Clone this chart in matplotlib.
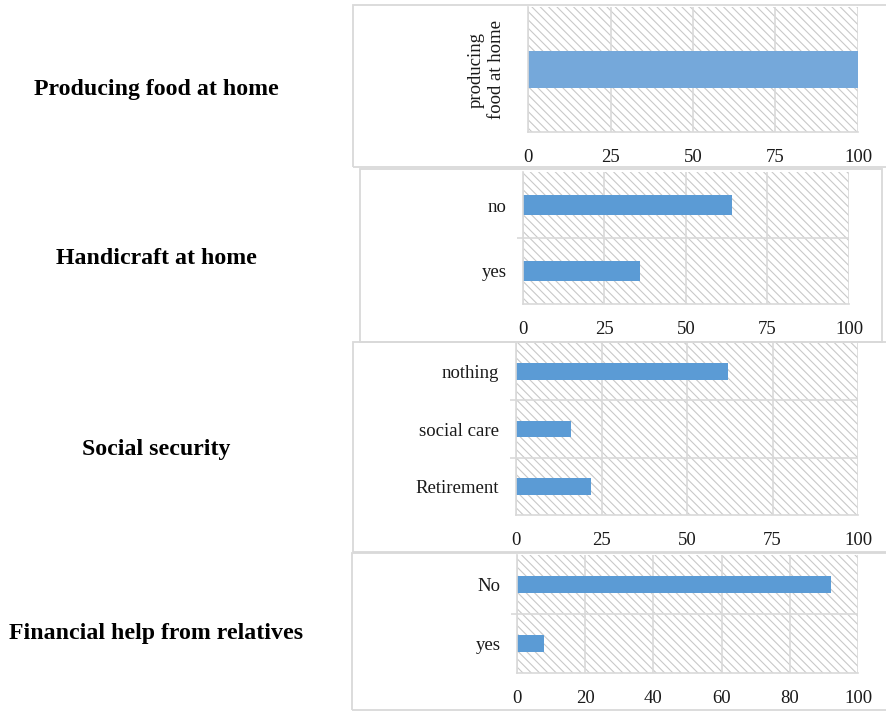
import matplotlib
matplotlib.use("Agg")
import matplotlib.pyplot as plt
from matplotlib.patches import Rectangle

plt.rcParams["font.family"] = ["Liberation Serif", "DejaVu Serif"]
plt.rcParams["hatch.linewidth"] = 0.8

# ---- data -------------------------------------------------------------
food_labels = ["producing\nfood at home"]
food_values = [100]

craft_labels = ["yes", "no"]
craft_values = [36, 64]

security_labels = ["Retirement", "social care", "nothing"]
security_values = [22, 16, 62]

relatives_labels = ["yes", "No"]
relatives_values = [8, 92]

titles = ["Producing food at home", "Handicraft at home",
          "Social security", "Financial help from relatives"]

# ---- styling ----------------------------------------------------------
W, H = 887, 719
GRID = "#D9D9D9"
HATCH = "#C9C9C9"
TEXT = "#1a1a1a"
FS = 13.5

fig = plt.figure(figsize=(W / 100, H / 100), dpi=100)


def fx(x):
    return x / W


def fy(y):
    return 1 - y / H


def frame(x0, y0, x1, y1):
    fig.add_artist(Rectangle((fx(x0), fy(y1)), fx(x1) - fx(x0), fy(y0) - fy(y1),
                             transform=fig.transFigure, facecolor="none",
                             edgecolor=GRID, linewidth=1.3, zorder=0))


def panel(box, plot, labels, values, color, xticks, title, title_y,
          rotate=False):
    frame(*box)
    l, t, r, b = plot
    ax = fig.add_axes([fx(l), fy(b), fx(r) - fx(l), fy(t) - fy(b)])
    ax.set_facecolor("white")
    ax.add_patch(Rectangle((0, 0), 1, 1, transform=ax.transAxes,
                           facecolor="white", edgecolor=HATCH, linewidth=0,
                           hatch="\\\\\\\\", zorder=0.1))
    n = len(labels)
    ax.barh(range(n), values, height=0.29, color=color, zorder=2)
    ax.set_xlim(0, xticks[-1])
    ax.set_ylim(-0.5, n - 0.5)
    ax.set_xticks(xticks)
    ax.set_xticklabels([str(v) for v in xticks], fontsize=FS, color=TEXT)
    ax.tick_params(axis="x", length=0, pad=12)
    ax.grid(axis="x", color=GRID, linewidth=1.2, zorder=1)
    ax.set_yticks(range(n))
    if rotate:
        ax.set_yticklabels(labels, fontsize=FS, color=TEXT, rotation=90,
                           va="center", ha="center", multialignment="center")
        ax.tick_params(axis="y", which="major", length=0, pad=30)
    else:
        ax.set_yticklabels(labels, fontsize=FS, color=TEXT)
        ax.tick_params(axis="y", which="major", length=0, pad=12)
    # boundaries between categories
    bounds = [i + 0.5 for i in range(n - 1)]
    ax.set_yticks(bounds, minor=True)
    ax.tick_params(axis="y", which="minor", length=4, color=GRID, width=1.2)
    for yb in bounds:
        ax.axhline(yb, color=GRID, linewidth=1.2, zorder=1)
    for s in ["top", "right"]:
        ax.spines[s].set_visible(False)
    for s in ["left", "bottom"]:
        ax.spines[s].set_color(GRID)
        ax.spines[s].set_linewidth(1.2)
    ax.spines["bottom"].set_bounds(0, xticks[-1])
    fig.text(fx(156), fy(title_y), title, ha="center", va="center",
             fontsize=17.2, fontweight="bold", color="black")
    return ax


panel((353, 5, 892, 167), (528, 7, 858, 132), food_labels, food_values,
      "#75A8DA", [0, 25, 50, 75, 100], titles[0], 90, rotate=True)
panel((360, 169, 882, 342), (523, 172, 849, 304), craft_labels, craft_values,
      "#5B9BD5", [0, 25, 50, 75, 100], titles[1], 258)
panel((353, 342, 892, 552), (516, 343, 858, 515), security_labels,
      security_values, "#5B9BD5", [0, 25, 50, 75, 100], titles[2], 449)
panel((352, 553, 892, 710), (517, 555, 858, 673), relatives_labels,
      relatives_values, "#5B9BD5", [0, 20, 40, 60, 80, 100], titles[3], 634)

fig.savefig("out.png", dpi=100)
